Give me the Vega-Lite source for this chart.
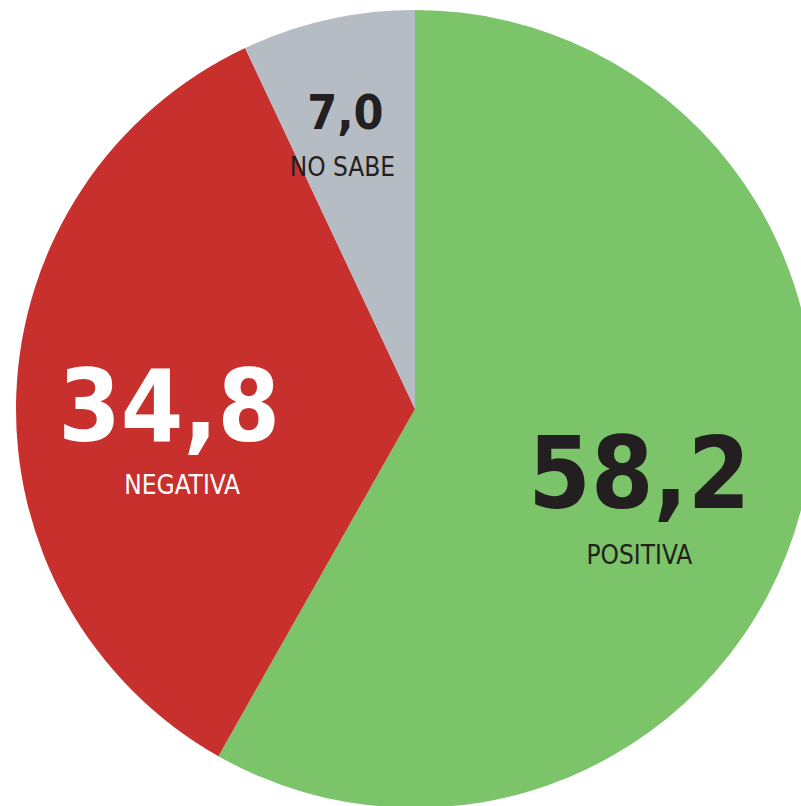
{
  "$schema": "https://vega.github.io/schema/vega-lite/v6.json",
  "width": 830,
  "height": 818,
  "padding": 0,
  "autosize": {"type": "none"},
  "background": "#ffffff",
  "view": {"stroke": null},
  "data": {"values": [
    {"cat": "POSITIVA", "valor": 58.2, "orden": 1, "texto": "58,2"},
    {"cat": "NEGATIVA", "valor": 34.8, "orden": 2, "texto": "34,8"},
    {"cat": "NO SABE", "valor": 7.0, "orden": 3, "texto": "7,0"}
  ]},
  "config": {"text": {"font": "DejaVu Sans Condensed, Liberation Sans, sans-serif"}},
  "encoding": {
    "theta": {"field": "valor", "type": "quantitative", "stack": true},
    "order": {"field": "orden", "type": "quantitative"}
  },
  "layer": [
    {
      "mark": {"type": "arc", "radius": 399},
      "encoding": {
        "color": {"field": "cat", "type": "nominal", "legend": null,
          "scale": {"domain": ["POSITIVA", "NEGATIVA", "NO SABE"], "range": ["#7BC46A", "#C8302D", "#B6BCC4"]}}
      }
    },
    {
      "mark": {"type": "text", "radius": 232, "dy": 40, "align": "center", "baseline": "alphabetic", "fontWeight": "bold", "fontSize": 100, "fill": "#231F20"},
      "encoding": {"text": {"condition": {"test": "datum.cat === 'POSITIVA'", "field": "texto"}, "value": ""}}
    },
    {
      "mark": {"type": "text", "radius": 232, "dy": 96, "align": "center", "baseline": "alphabetic", "fontSize": 26, "fill": "#231F20"},
      "encoding": {"text": {"condition": {"test": "datum.cat === 'POSITIVA'", "field": "cat"}, "value": ""}}
    },
    {
      "mark": {"type": "text", "radius": 246, "dy": 41, "align": "center", "baseline": "alphabetic", "fontWeight": "bold", "fontSize": 100, "fill": "#FFFFFF"},
      "encoding": {"text": {"condition": {"test": "datum.cat === 'NEGATIVA'", "field": "texto"}, "value": ""}}
    },
    {
      "mark": {"type": "text", "radius": 246, "dy": 94, "dx": 13, "align": "center", "baseline": "alphabetic", "fontSize": 26, "fill": "#FFFFFF"},
      "encoding": {"text": {"condition": {"test": "datum.cat === 'NEGATIVA'", "field": "cat"}, "value": ""}}
    },
    {
      "mark": {"type": "text", "radius": 319, "dy": 31, "align": "center", "baseline": "alphabetic", "fontWeight": "bold", "fontSize": 48, "fill": "#231F20"},
      "encoding": {"text": {"condition": {"test": "datum.cat === 'NO SABE'", "field": "texto"}, "value": ""}}
    },
    {
      "mark": {"type": "text", "radius": 319, "dy": 78, "dx": -3, "align": "center", "baseline": "alphabetic", "fontSize": 26, "fill": "#231F20"},
      "encoding": {"text": {"condition": {"test": "datum.cat === 'NO SABE'", "field": "cat"}, "value": ""}}
    }
  ]
}
